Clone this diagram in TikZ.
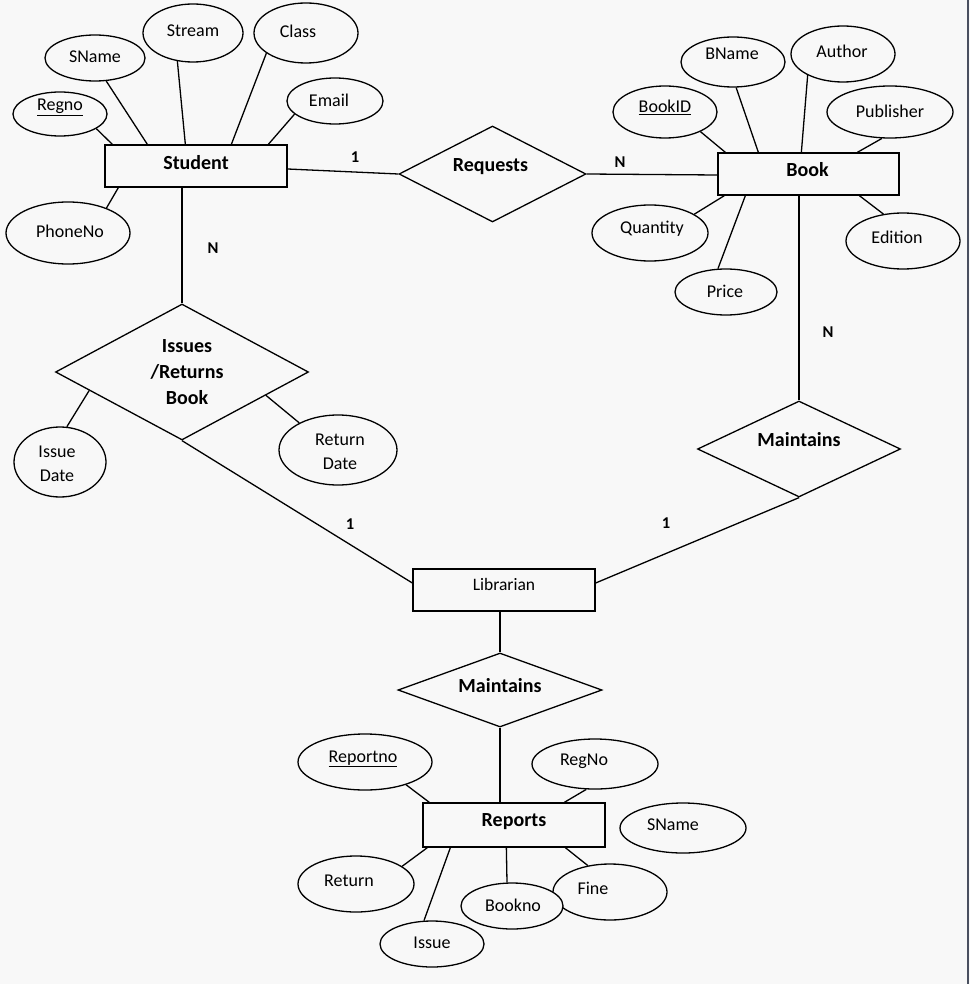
\documentclass[tikz,border=0pt]{standalone}
\usepackage{fontspec}
\setmainfont{Carlito}
\usetikzlibrary{shapes.geometric,calc}
\definecolor{bg}{HTML}{F8F8F8}
\definecolor{edgecol}{HTML}{4A5060}
\begin{document}
\begin{tikzpicture}[x=1pt,y=-1pt,line width=1.3pt,
  entity/.style={draw, rectangle, inner sep=0pt, fill=bg},
  rel/.style={draw, diamond, inner sep=0pt, fill=bg},
  attr/.style n args={2}{draw, ellipse, inner sep=0pt, fill=bg, minimum width=#1, minimum height=#2},
  etext/.style={font=\fontsize{20}{26}\selectfont\bfseries, inner sep=0pt},
  ltext/.style={font=\fontsize{17.5}{20}\selectfont, inner sep=0pt},
  atext/.style={font=\fontsize{18}{24}\selectfont, inner sep=0pt, align=center},
  card/.style={font=\fontsize{16.5}{18}\selectfont\bfseries, inner sep=0pt}]
\fill[bg] (0,0) rectangle (970,984);
\useasboundingbox (0,0) rectangle (970,984);
\draw[edgecol, line width=2pt] (967.5,0) -- (967.5,984);

% entities
\node[entity, minimum width=182pt, minimum height=42pt, label={[etext,yshift=3pt]center:Student}] (student) at (196,166) {};
\node[entity, minimum width=181pt, minimum height=42pt, label={[etext,yshift=4pt,xshift=-1pt]center:Book}] (book) at (808.5,174) {};
\node[entity, minimum width=182pt, minimum height=42pt, label={[ltext,yshift=6pt]center:Librarian}] (librarian) at (504,590) {};
\node[entity, minimum width=182pt, minimum height=44pt, label={[etext,yshift=3pt]center:Reports}] (reports) at (514,825) {};

% relationships
\node[rel, minimum width=187pt, minimum height=96pt, label={[etext,yshift=7pt,xshift=-2pt]center:Requests}] (requests) at (492.5,174) {};
\node[rel, minimum width=253pt, minimum height=136pt, label={[etext,align=center,xshift=5pt]center:Issues\\/Returns\\Book}] (issues) at (182,372) {};
\node[rel, minimum width=203pt, minimum height=96pt, label={[etext,yshift=9pt]center:Maintains}] (maint1) at (799,449) {};
\node[rel, minimum width=204pt, minimum height=74pt, label={[etext,yshift=4pt]center:Maintains}] (maint2) at (500,690) {};

% student attributes
\node[attr={94pt}{44pt}, label={[atext,yshift=7pt]center:\underline{Regno}}] (regno) at (60,114) {};
\node[attr={100pt}{46pt}, label={[atext,yshift=1pt]center:SName}] (sname1) at (95,58) {};
\node[attr={100pt}{58pt}, label={[atext,yshift=2pt]center:Stream}] (stream) at (193,33) {};
\node[attr={104pt}{60pt}, label={[atext,xshift=-8pt,yshift=2pt]center:Class}] (class) at (306,33) {};
\node[attr={96pt}{46pt}, label={[atext,xshift=-6pt,yshift=1pt]center:Email}] (email) at (335,101) {};
\node[attr={124pt}{62pt}, label={[atext,xshift=2pt,yshift=2pt]center:PhoneNo}] (phoneno) at (68,233) {};

% book attributes
\node[attr={104pt}{52pt}, label={[atext,yshift=5pt]center:\underline{BookID}}] (bookid) at (665,112) {};
\node[attr={104pt}{50pt}, label={[atext,xshift=-1pt,yshift=8pt]center:BName}] (bname) at (733,62) {};
\node[attr={104pt}{56pt}, label={[atext,xshift=-1pt,yshift=3pt]center:Author}] (author) at (843,54) {};
\node[attr={126pt}{52pt}, label={[atext,yshift=1pt]center:Publisher}] (publisher) at (890,112) {};
\node[attr={116pt}{56pt}, label={[atext,xshift=2pt,yshift=4pt]center:Quantity}] (quantity) at (650,233) {};
\node[attr={114pt}{56pt}, label={[atext,xshift=-6pt,yshift=4pt]center:Edition}] (edition) at (903,241) {};
\node[attr={102pt}{46pt}, label={[atext,xshift=-1pt,yshift=1pt]center:Price}] (price) at (726,292) {};

% issue/return attributes
\node[attr={92pt}{70pt}, label={[atext,xshift=-3pt,yshift=-2pt]center:Issue\\Date}] (issuedate) at (60,462) {};
\node[attr={118pt}{70pt}, label={[atext,xshift=2pt,yshift=-2pt]center:Return\\Date}] (returndate) at (338,450) {};

% report attributes
\node[attr={134pt}{56pt}, label={[atext,xshift=-2pt,yshift=3pt]center:\underline{Reportno}}] (reportno) at (365,762) {};
\node[attr={126pt}{50pt}, label={[atext,xshift=-11pt,yshift=3pt]center:RegNo}] (regno2) at (595,764) {};
\node[attr={126pt}{50pt}, label={[atext,xshift=-10pt,yshift=3pt]center:SName}] (sname2) at (683,828) {};
\node[attr={116pt}{56pt}, label={[atext,xshift=-7pt,yshift=3pt]center:Return}] (return) at (356,884) {};
\node[attr={104pt}{46pt}, label={[atext,yshift=1pt]center:Issue}] (issue) at (432,944) {};
\node[attr={114pt}{56pt}, label={[atext,xshift=-17pt,yshift=4pt]center:Fine}] (fine) at (610,892) {};
\node[attr={102pt}{46pt}, label={[atext,xshift=1pt,yshift=1pt]center:Bookno}] (bookno) at (512,906) {};

% cardinalities
\node[card] (c1) at (355,157) {1};
\node[card] (c2) at (620,162) {N};
\node[card] (c3) at (213,248) {N};
\node[card] (c4) at (828,332) {N};
\node[card] (c5) at (350,524) {1};
\node[card] (c6) at (666,523) {1};

% relationship connectors
\draw ([yshift=-3pt]student.east) -- (requests.west);
\draw (requests.east) -- ([yshift=-1pt]book.west);
\draw (issues.north |- student.south) -- (issues.north);
\draw (maint1.north |- book.south) -- (maint1.north);
\draw (issues.south) -- ([yshift=7pt]librarian.west);
\draw (maint1.south) -- ([yshift=7pt]librarian.east);
\draw (maint2.north |- librarian.south) -- (maint2.north);
\draw (maint2.south) -- (maint2.south |- reports.north);

% attribute connectors
\draw (regno.-22) -- ([xshift=8pt]student.north west);
\draw (sname1.-64) -- ([xshift=43pt]student.north west);
\draw (stream.241) -- ([xshift=81pt]student.north west);
\draw (class.207) -- ([xshift=127pt]student.north west);
\draw (email.198) -- ([xshift=164pt]student.north west);
\draw (phoneno.33) -- ([xshift=14pt]student.south west);

\draw (bookid.-29) -- ([xshift=8pt]book.north west);
\draw (bname.-83) -- ([xshift=41pt]book.north west);
\draw (author.211) -- ([xshift=84pt]book.north west);
\draw (publisher.253) -- ([xshift=140pt]book.north west);
\draw (quantity.23) -- ([xshift=7pt]book.south west);
\draw (price.109) -- ([xshift=28pt]book.south west);
\draw (edition.126) -- ([xshift=142pt]book.south west);

\draw (issuedate.79) -- ($(issues.west)!0.27!(issues.south)$);
\draw (returndate.145) -- ($(issues.east)!0.34!(issues.south)$);

\draw (reportno.-29) -- ([xshift=7pt]reports.north west);
\draw (regno2.251) -- ([xshift=142pt]reports.north west);
\draw (return.21) -- ([xshift=5pt]reports.south west);
\draw (issue.109) -- ([xshift=28pt]reports.south west);
\draw (bookno.102) -- ([xshift=84pt]reports.south west);
\draw (fine.130) -- ([xshift=143pt]reports.south west);
\end{tikzpicture}
\end{document}
